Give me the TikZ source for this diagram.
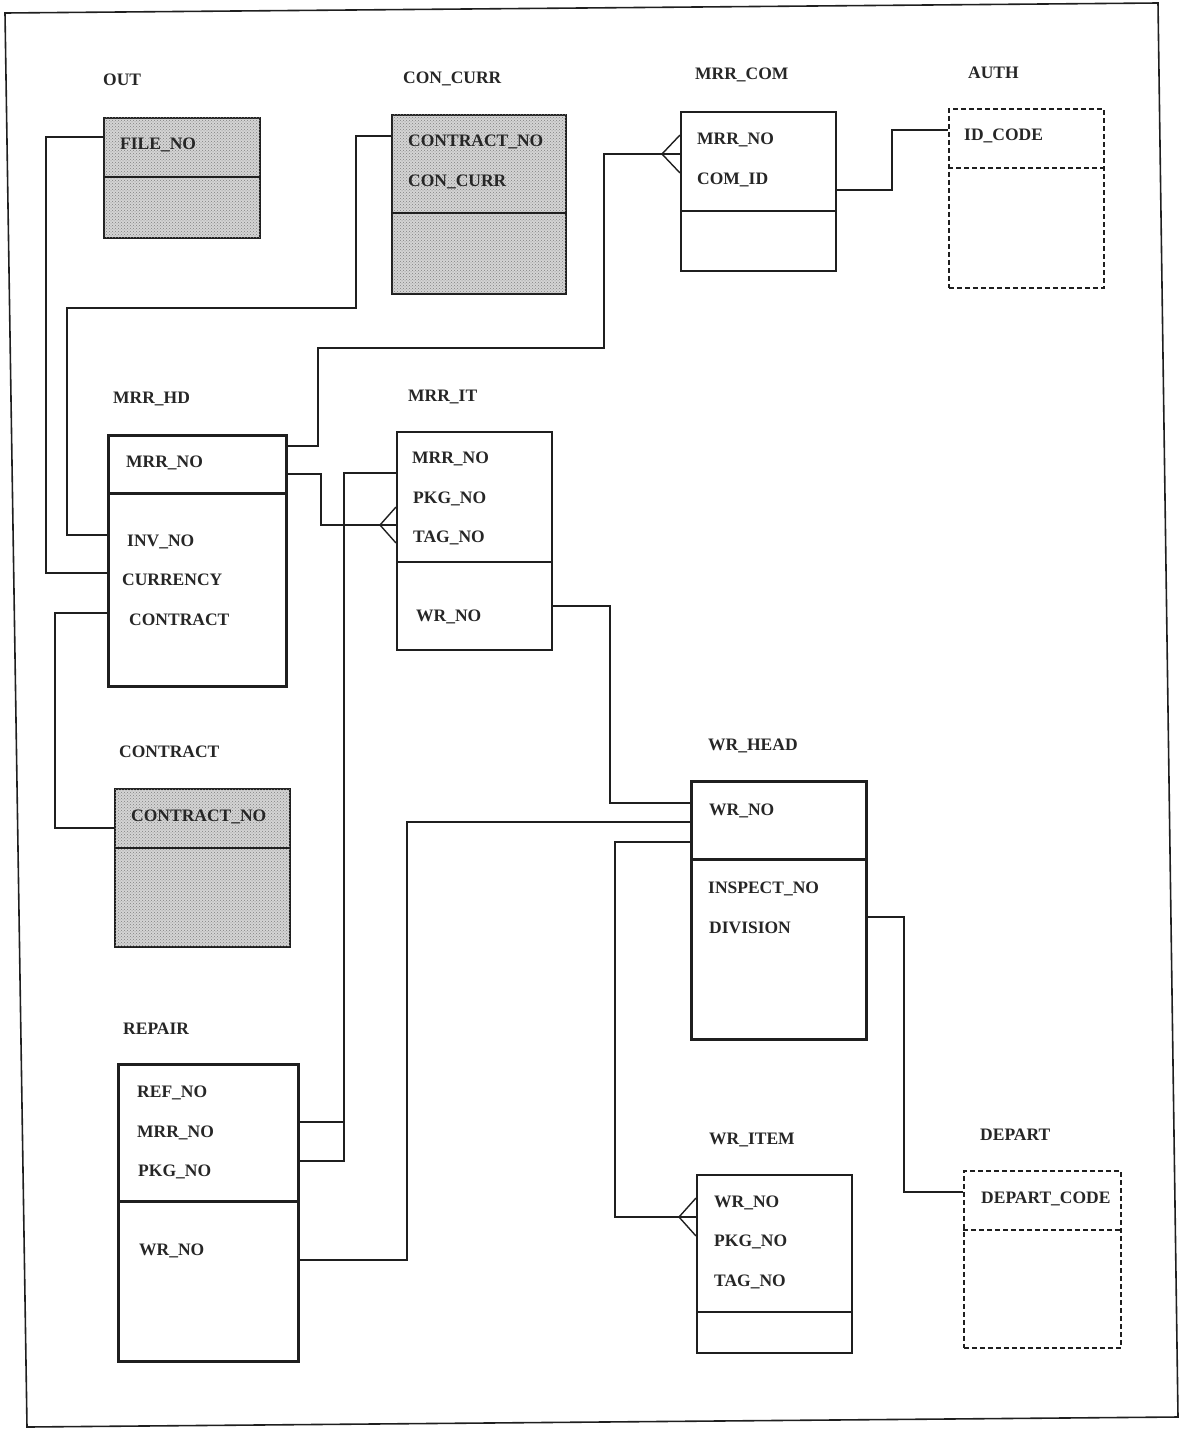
\documentclass[tikz,border=0pt]{standalone}
\usepackage{fontspec}
\setmainfont{Liberation Serif}
\usetikzlibrary{calc,patterns}
\begin{document}
\begin{tikzpicture}[x=1pt,y=-1pt,
  ink/.style={draw=black!88},
  ent/.style={ink, rectangle, inner sep=0pt, anchor=north west, line width=1.6pt},
  thickent/.style={ent, line width=3pt},
  weakent/.style={ent, line width=1.6pt, dash pattern=on 5pt off 3pt},
  shaded/.style={fill=black!17, postaction={pattern=crosshatch dots, pattern color=black!50}},
  divthin/.style={ink, line width=1.6pt},
  divthick/.style={ink, line width=3pt},
  divdash/.style={ink, line width=1.6pt, dash pattern=on 5pt off 3pt},
  conn/.style={ink, line width=1.4pt, line join=miter},
  txt/.style={anchor=base west, inner sep=0pt, text=black!85, font=\fontsize{17.5}{20}\selectfont\bfseries}
]
\useasboundingbox (0,0) rectangle (1187,1430);
% outer frame
\draw[ink, line width=1.6pt] (5,13) -- (1158,3) -- (1178,1417) -- (27,1427) -- cycle;

% ---------- entities ----------
\node[ent, shaded, minimum width=156pt, minimum height=120pt] (out) at (103,117) {};
\draw[divthin] ($(out.north west)+(0,60)$) -- ($(out.north east)+(0,60)$);
\node[txt] (tout) at (103,85) {OUT};
\node[txt] (out1) at (120,149) {FILE\_NO};

\node[ent, shaded, minimum width=174pt, minimum height=179pt] (cc) at (391,114) {};
\draw[divthin] ($(cc.north west)+(0,99)$) -- ($(cc.north east)+(0,99)$);
\node[txt] (tcc) at (403,83) {CON\_CURR};
\node[txt] (cc1) at (408,146) {CONTRACT\_NO};
\node[txt] (cc2) at (408,186) {CON\_CURR};

\node[ent, fill=white, minimum width=155pt, minimum height=159pt] (com) at (680,111) {};
\draw[divthin] ($(com.north west)+(0,100)$) -- ($(com.north east)+(0,100)$);
\node[txt] (tcom) at (695,79) {MRR\_COM};
\node[txt] (com1) at (697,144) {MRR\_NO};
\node[txt] (com2) at (697,184) {COM\_ID};

\node[weakent, minimum width=155pt, minimum height=179pt] (auth) at (948,108) {};
\draw[divdash] ($(auth.north west)+(0,60)$) -- ($(auth.north east)+(0,60)$);
\node[txt] (tauth) at (968,78) {AUTH};
\node[txt] (auth1) at (964,140) {ID\_CODE};

\node[thickent, minimum width=178pt, minimum height=251pt] (hd) at (107,434) {};
\draw[divthick] ($(hd.north west)+(0,59)$) -- ($(hd.north east)+(0,59)$);
\node[txt] (thd) at (113,403) {MRR\_HD};
\node[txt] (hd1) at (126,467) {MRR\_NO};
\node[txt] (hd2) at (127,546) {INV\_NO};
\node[txt] (hd3) at (122,585) {CURRENCY};
\node[txt] (hd4) at (129,625) {CONTRACT};

\node[ent, minimum width=155pt, minimum height=218pt] (it) at (396,431) {};
\draw[divthin] ($(it.north west)+(0,131)$) -- ($(it.north east)+(0,131)$);
\node[txt] (tit) at (408,401) {MRR\_IT};
\node[txt] (it1) at (412,463) {MRR\_NO};
\node[txt] (it2) at (413,503) {PKG\_NO};
\node[txt] (it3) at (413,542) {TAG\_NO};
\node[txt] (it4) at (416,621) {WR\_NO};

\node[ent, shaded, minimum width=175pt, minimum height=158pt] (ct) at (114,788) {};
\draw[divthin] ($(ct.north west)+(0,60)$) -- ($(ct.north east)+(0,60)$);
\node[txt] (tct) at (119,757) {CONTRACT};
\node[txt] (ct1) at (131,821) {CONTRACT\_NO};

\node[thickent, minimum width=180pt, minimum height=297pt] (rep) at (117,1063) {};
\draw[divthick] ($(rep.north west)+(0,138)$) -- ($(rep.north east)+(0,138)$);
\node[txt] (trep) at (123,1034) {REPAIR};
\node[txt] (rep1) at (137,1097) {REF\_NO};
\node[txt] (rep2) at (137,1137) {MRR\_NO};
\node[txt] (rep3) at (138,1176) {PKG\_NO};
\node[txt] (rep4) at (139,1255) {WR\_NO};

\node[thickent, minimum width=175pt, minimum height=258pt] (wh) at (690,780) {};
\draw[divthick] ($(wh.north west)+(0,79)$) -- ($(wh.north east)+(0,79)$);
\node[txt] (twh) at (708,750) {WR\_HEAD};
\node[txt] (wh1) at (709,815) {WR\_NO};
\node[txt] (wh2) at (708,893) {INSPECT\_NO};
\node[txt] (wh3) at (709,933) {DIVISION};

\node[ent, minimum width=155pt, minimum height=178pt] (wi) at (696,1174) {};
\draw[divthin] ($(wi.north west)+(0,138)$) -- ($(wi.north east)+(0,138)$);
\node[txt] (twi) at (709,1144) {WR\_ITEM};
\node[txt] (wi1) at (714,1207) {WR\_NO};
\node[txt] (wi2) at (714,1246) {PKG\_NO};
\node[txt] (wi3) at (714,1286) {TAG\_NO};

\node[weakent, minimum width=157pt, minimum height=177pt] (dep) at (963,1170) {};
\draw[divdash] ($(dep.north west)+(0,60)$) -- ($(dep.north east)+(0,60)$);
\node[txt] (tdep) at (980,1140) {DEPART};
\node[txt] (dep1) at (981,1203) {DEPART\_CODE};

% ---------- connectors ----------
% OUT.FILE_NO -- MRR_HD.CURRENCY
\draw[conn] ($(out.north west)+(0,20)$) -- (46,137) -- (46,573) -- ($(hd.north west)+(0,139)$);
% CON_CURR -- MRR_HD.INV_NO
\draw[conn] ($(cc.north west)+(0,22)$) -- (356,136) -- (356,308) -- (67,308) -- (67,535) -- ($(hd.north west)+(0,101)$);
% MRR_HD.CONTRACT -- CONTRACT
\draw[conn] ($(hd.north west)+(0,179)$) -- (55,613) -- (55,828) -- ($(ct.north west)+(0,40)$);
% MRR_HD -- MRR_COM (many)
\draw[conn] ($(hd.north east)+(0,12)$) -- (318,446) -- (318,348) -- (604,348) -- (604,154) -- ($(com.north west)+(0,43)$);
\draw[conn] (662,154) -- ($(com.north west)+(0,24)$);
\draw[conn] (662,154) -- ($(com.north west)+(0,62)$);
% MRR_HD -- MRR_IT (many)
\draw[conn] ($(hd.north east)+(0,40)$) -- (321,474) -- (321,525) -- ($(it.north west)+(0,94)$);
\draw[conn] (380,525) -- ($(it.north west)+(0,76)$);
\draw[conn] (380,525) -- ($(it.north west)+(0,112)$);
% MRR_IT.MRR_NO -- REPAIR.MRR_NO / PKG_NO
\draw[conn] ($(it.north west)+(0,42)$) -- (344,473) -- (344,1161) -- ($(rep.north east)+(0,98)$);
\draw[conn] ($(rep.north east)+(0,59)$) -- (344,1122);
% REPAIR.WR_NO -- WR_HEAD
\draw[conn] ($(rep.north east)+(0,197)$) -- (407,1260) -- (407,822) -- ($(wh.north west)+(0,42)$);
% MRR_IT.WR_NO -- WR_HEAD
\draw[conn] ($(it.north east)+(0,175)$) -- (610,606) -- (610,803) -- ($(wh.north west)+(0,23)$);
% WR_HEAD -- WR_ITEM (many)
\draw[conn] ($(wh.north west)+(0,62)$) -- (615,842) -- (615,1217) -- ($(wi.north west)+(0,43)$);
\draw[conn] (679,1217) -- ($(wi.north west)+(0,24)$);
\draw[conn] (679,1217) -- ($(wi.north west)+(0,62)$);
% WR_HEAD.DIVISION -- DEPART
\draw[conn] ($(wh.north east)+(0,137)$) -- (904,917) -- (904,1192) -- ($(dep.north west)+(0,22)$);
% MRR_COM.COM_ID -- AUTH
\draw[conn] ($(com.north east)+(0,79)$) -- (892,190) -- (892,130) -- ($(auth.north west)+(0,22)$);
\end{tikzpicture}
\end{document}
